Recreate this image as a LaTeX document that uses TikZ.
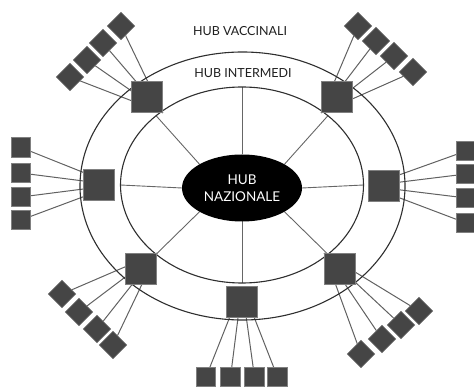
\documentclass[tikz,border=0pt]{standalone}
\usepackage{fontspec}
\setmainfont{Lato}
\usetikzlibrary{calc,shapes.geometric}
\pgfdeclarelayer{bg}
\pgfsetlayers{bg,main}
\begin{document}
\begin{tikzpicture}[x=1pt,y=-1pt,
  ring/.style={draw=black!82, line width=1.1pt, ellipse, inner sep=0pt},
  spoke/.style={draw=black!60, line width=0.9pt},
  link/.style={draw=black!62, line width=1pt},
  hubint/.style={draw=black!50, fill=black!73, line width=0.6pt, minimum size=31pt, inner sep=0pt},
  vac/.style={draw=black!50, fill=black!73, line width=0.6pt, minimum size=19.5pt, inner sep=0pt},
  title/.style={text=black!88, font=\fontsize{12.5}{14}\selectfont}]
\useasboundingbox (0,0) rectangle (474,387);

% rings
\node[ring, minimum width=325pt, minimum height=268pt] (outer) at (242.5,186) {};
\node[ring, minimum width=243pt, minimum height=196pt] (inner) at (242,185) {};
\node[ellipse, fill=black, inner sep=0pt, minimum width=120pt, minimum height=67pt,
      text=white, align=center, font=\fontsize{13.5}{17}\selectfont] (nat) at (242,188) {HUB\\NAZIONALE};

\node[title] (tv) at (240,31) {HUB VACCINALI};
\node[title] (ti) at (243,73) {HUB INTERMEDI};

% spokes
\begin{pgfonlayer}{bg}
\foreach \a in {0,45,...,315}
  \draw[spoke] ($(nat.center)+(\a:60pt and 33.5pt)$) -- ($(inner.center)+(\a:121.5pt and 98pt)$);
\end{pgfonlayer}

% intermediate hubs
\node[hubint] (TL) at (147,97) {};
\node[hubint] (TR) at (337,97) {};
\node[hubint] (L)  at (99,185) {};
\node[hubint] (R)  at (384,186) {};
\node[hubint] (BL) at (141,269) {};
\node[hubint] (B)  at (242,302) {};
\node[hubint] (BR) at (340,269) {};

% vaccination hubs
\foreach \p [count=\i] in {(121,26),(103,43),(87,60),(70,77)} {
  \node[vac, rotate=45] (tl\i) at \p {};
  \begin{pgfonlayer}{bg}\draw[link] (tl\i.center) -- (TL.south east);\end{pgfonlayer}
}
\foreach \p [count=\i] in {(358,26),(376,41),(394,56),(413,72)} {
  \node[vac, rotate=45] (tr\i) at \p {};
  \begin{pgfonlayer}{bg}\draw[link] (tr\i.center) -- (TR.south west);\end{pgfonlayer}
}
\foreach \p [count=\i] in {(21,147.5),(21,173),(21,197),(21,220)} {
  \node[vac] (l\i) at \p {};
  \begin{pgfonlayer}{bg}\draw[link] (l\i.center) -- (L.east);\end{pgfonlayer}
}
\foreach \p [count=\i] in {(466,151),(466,174),(466,198),(466,223)} {
  \node[vac] (r\i) at \p {};
  \begin{pgfonlayer}{bg}\draw[link] (r\i.center) -- (R.west);\end{pgfonlayer}
}
\foreach \p [count=\i] in {(62,294),(79,312),(97,329),(113,345)} {
  \node[vac, rotate=45] (bl\i) at \p {};
  \begin{pgfonlayer}{bg}\draw[link] (bl\i.center) -- (BL.north east);\end{pgfonlayer}
}
\foreach \p [count=\i] in {(206,377),(230.5,377),(254.5,377),(277.5,377)} {
  \node[vac] (b\i) at \p {};
  \begin{pgfonlayer}{bg}\draw[link] (b\i.center) -- (B.north);\end{pgfonlayer}
}
\foreach \p [count=\i] in {(419,311),(401,325),(382,339),(361,354)} {
  \node[vac, rotate=45] (br\i) at \p {};
  \begin{pgfonlayer}{bg}\draw[link] (br\i.center) -- (BR.north west);\end{pgfonlayer}
}
\end{tikzpicture}
\end{document}
